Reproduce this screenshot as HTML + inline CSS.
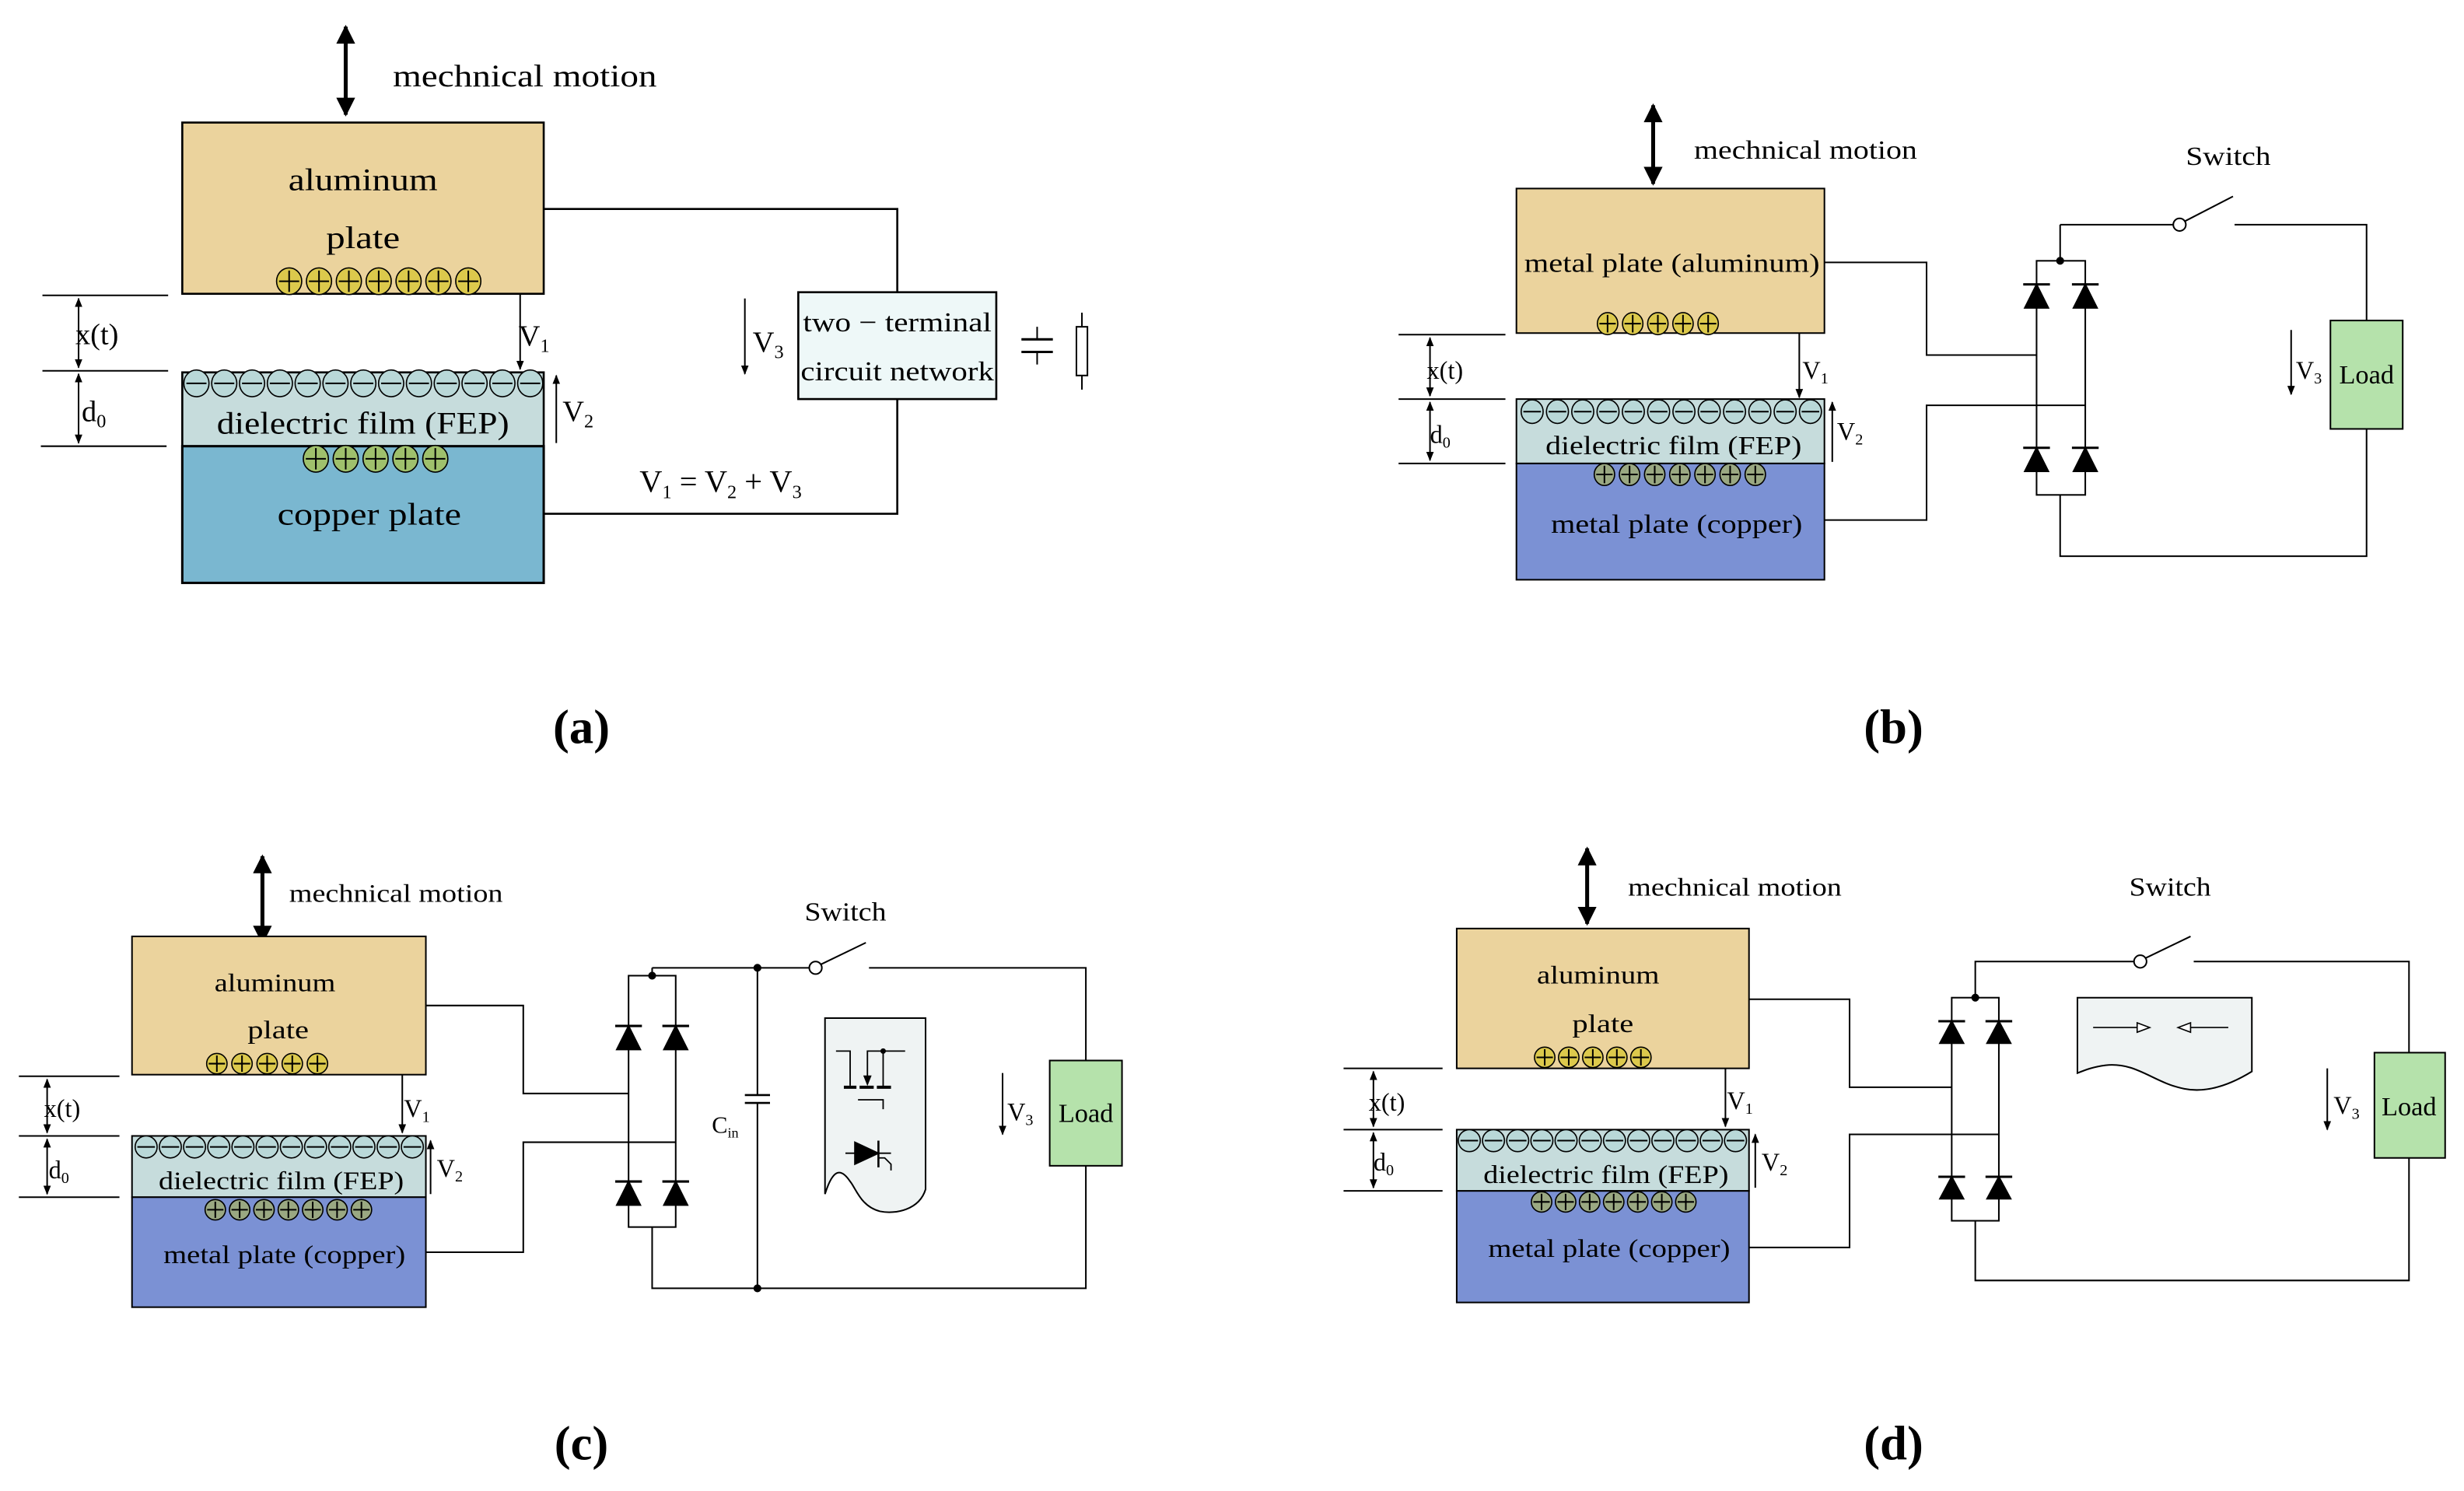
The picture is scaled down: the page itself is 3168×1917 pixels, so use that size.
<!DOCTYPE html>
<html><head><meta charset="utf-8"><style>
html,body{margin:0;padding:0;background:#fff;}
svg{display:block;}
text{font-family:"Liberation Serif",serif;fill:#000;}
</style></head><body>
<svg id="s" width="3168" height="1917" viewBox="0 0 1568 949" preserveAspectRatio="none" xmlns="http://www.w3.org/2000/svg">
<defs>
<marker id="ah" viewBox="0 0 10 10" refX="9" refY="5" markerWidth="6" markerHeight="8" orient="auto-start-reverse" markerUnits="userSpaceOnUse"><path d="M0,1 L10,5 L0,9 Z" fill="#000"/></marker>
<marker id="bh" viewBox="0 0 10 10" refX="9" refY="5" markerWidth="14" markerHeight="12" orient="auto-start-reverse" markerUnits="userSpaceOnUse"><path d="M0,0 L10,5 L0,10 Z" fill="#000"/></marker>
</defs>
<g id="g" fill="none" stroke="#000" stroke-width="1">
<!-- ===== Panel a ===== -->
<line x1="220" y1="17" x2="220" y2="73" stroke-width="2.5" marker-start="url(#bh)" marker-end="url(#bh)"/>
<rect x="116" y="78" width="230" height="109" fill="#ebd39d" stroke-width="1.3"/>
<rect x="116" y="237" width="230" height="47" fill="#c6dcdc" stroke-width="1.3"/>
<rect x="116" y="284" width="230" height="87" fill="#7ab7d0" stroke-width="1.5"/>
<line x1="27" y1="188" x2="107" y2="188"/><line x1="27" y1="236" x2="107" y2="236"/><line x1="26" y1="284" x2="106" y2="284"/>
<line x1="50" y1="190" x2="50" y2="234" marker-start="url(#ah)" marker-end="url(#ah)"/>
<line x1="50" y1="238" x2="50" y2="282" marker-start="url(#ah)" marker-end="url(#ah)"/>
<line x1="331" y1="187" x2="331" y2="235" marker-end="url(#ah)"/>
<line x1="354" y1="282" x2="354" y2="239" marker-end="url(#ah)"/>
<polyline points="346,133 571,133 571,186" stroke-width="1.3"/>
<rect x="508" y="186" width="126" height="68" fill="#eef8f8" stroke-width="1.3"/>
<polyline points="571,254 571,327 346,327" stroke-width="1.3"/>
<line x1="474" y1="190" x2="474" y2="238" marker-end="url(#ah)"/>
<line x1="650" y1="216" x2="670" y2="216" stroke-width="1.5"/><line x1="650" y1="224" x2="670" y2="224" stroke-width="1.5"/>
<line x1="660" y1="208" x2="660" y2="216"/><line x1="660" y1="224" x2="660" y2="232"/>
<rect x="685" y="208" width="7" height="31"/><line x1="688.5" y1="199" x2="688.5" y2="208"/><line x1="688.5" y1="239" x2="688.5" y2="248"/>

<!-- ===== Panel b ===== -->
<line x1="1052" y1="67" x2="1052" y2="117" stroke-width="2.5" marker-start="url(#bh)" marker-end="url(#bh)"/>
<rect x="965" y="120" width="196" height="92" fill="#ebd39d"/>
<rect x="965" y="254" width="196" height="41" fill="#c6dcdc"/>
<rect x="965" y="295" width="196" height="74" fill="#7b91d4"/>
<line x1="890" y1="213" x2="958" y2="213"/><line x1="890" y1="254" x2="958" y2="254"/><line x1="890" y1="295" x2="958" y2="295"/>
<line x1="910" y1="215" x2="910" y2="252" marker-start="url(#ah)" marker-end="url(#ah)"/>
<line x1="910" y1="256" x2="910" y2="293" marker-start="url(#ah)" marker-end="url(#ah)"/>
<line x1="1145" y1="212" x2="1145" y2="253" marker-end="url(#ah)"/>
<line x1="1166" y1="294" x2="1166" y2="256" marker-end="url(#ah)"/>
<polyline points="1161,167 1226,167 1226,226 1296,226"/>
<polyline points="1161,331 1226,331 1226,258 1327,258"/>
<rect x="1296" y="166" width="31" height="149"/>
<line x1="1311" y1="166" x2="1311" y2="143"/>
<line x1="1311" y1="143" x2="1383" y2="143"/>
<circle cx="1387" cy="143" r="4" fill="#fff"/>
<line x1="1390" y1="141" x2="1421" y2="125"/>
<polyline points="1422,143 1506,143 1506,204"/>
<rect x="1483" y="204" width="46" height="69" fill="#b5e2ab"/>
<polyline points="1506,273 1506,354 1311,354 1311,315"/>
<line x1="1458" y1="210" x2="1458" y2="251" marker-end="url(#ah)"/>

<!-- ===== Panel c ===== -->
<line x1="167" y1="545" x2="167" y2="600" stroke-width="2.5" marker-start="url(#bh)" marker-end="url(#bh)"/>
<rect x="84" y="596" width="187" height="88" fill="#ebd39d"/>
<rect x="84" y="723" width="187" height="39" fill="#c6dcdc"/>
<rect x="84" y="762" width="187" height="70" fill="#7b91d4"/>
<line x1="12" y1="685" x2="76" y2="685"/><line x1="12" y1="723" x2="76" y2="723"/><line x1="12" y1="762" x2="76" y2="762"/>
<line x1="30" y1="687" x2="30" y2="721" marker-start="url(#ah)" marker-end="url(#ah)"/>
<line x1="30" y1="725" x2="30" y2="760" marker-start="url(#ah)" marker-end="url(#ah)"/>
<line x1="256" y1="684" x2="256" y2="721" marker-end="url(#ah)"/>
<line x1="274" y1="760" x2="274" y2="726" marker-end="url(#ah)"/>
<polyline points="271,640 333,640 333,696 400,696"/>
<polyline points="271,797 333,797 333,727 430,727"/>
<rect x="400" y="621" width="30" height="160"/>
<line x1="415" y1="621" x2="415" y2="616"/>
<line x1="415" y1="616" x2="515" y2="616"/>
<circle cx="519" cy="616" r="4" fill="#fff"/>
<line x1="522" y1="614" x2="551" y2="600"/>
<polyline points="553,616 691,616 691,675"/>
<rect x="668" y="675" width="46" height="67" fill="#b5e2ab"/>
<polyline points="691,742 691,820 415,820 415,781"/>
<line x1="482" y1="616" x2="482" y2="697"/><line x1="482" y1="702" x2="482" y2="820"/>
<line x1="474" y1="697" x2="490" y2="697" stroke-width="1.3"/><line x1="474" y1="702" x2="490" y2="702" stroke-width="1.3"/>
<path d="M525,648 L589,648 L589,757 C585,770 570,773 560,771 C548,768 545,757 541,752 C535,743 530,744 525,760 Z" fill="#eff3f3"/>
<g stroke-width="0.9">
<polyline points="532,669 541,669 541,691"/>
<line x1="537" y1="692" x2="545" y2="692" stroke-width="2"/>
<line x1="547" y1="692" x2="556" y2="692" stroke-width="2"/>
<line x1="558" y1="692" x2="567" y2="692" stroke-width="2"/>
<polyline points="552,690 552,669 576,669"/>
<polyline points="562,669 562,692"/>
<polyline points="546,700 562,700 562,706"/>
<circle cx="562" cy="669" r="1.3" fill="#000"/>
<path d="M550,685 L552,690 L554,685 Z" fill="#000"/>
<line x1="538" y1="734" x2="567" y2="734"/>
<path d="M544,727 L559,734 L544,741 Z" fill="#000"/>
<line x1="559" y1="726" x2="559" y2="743" stroke-width="1.3"/>
<polyline points="559,737 563,737 567,741 567,745"/>
</g>
<line x1="638" y1="683" x2="638" y2="722" marker-end="url(#ah)"/>

<!-- ===== Panel d ===== -->
<line x1="1010" y1="540" x2="1010" y2="588" stroke-width="2.5" marker-start="url(#bh)" marker-end="url(#bh)"/>
<rect x="927" y="591" width="186" height="89" fill="#ebd39d"/>
<rect x="927" y="719" width="186" height="39" fill="#c6dcdc"/>
<rect x="927" y="758" width="186" height="71" fill="#7b91d4"/>
<line x1="855" y1="680" x2="918" y2="680"/><line x1="855" y1="719" x2="918" y2="719"/><line x1="855" y1="758" x2="918" y2="758"/>
<line x1="874" y1="682" x2="874" y2="717" marker-start="url(#ah)" marker-end="url(#ah)"/>
<line x1="874" y1="721" x2="874" y2="756" marker-start="url(#ah)" marker-end="url(#ah)"/>
<line x1="1098" y1="680" x2="1098" y2="717" marker-end="url(#ah)"/>
<line x1="1117" y1="756" x2="1117" y2="722" marker-end="url(#ah)"/>
<polyline points="1113,636 1177,636 1177,692 1242,692"/>
<polyline points="1113,794 1177,794 1177,722 1272,722"/>
<rect x="1242" y="635" width="30" height="142"/>
<polyline points="1257,635 1257,612 1358,612"/>
<circle cx="1362" cy="612" r="4" fill="#fff"/>
<line x1="1365" y1="610" x2="1394" y2="596"/>
<polyline points="1396,612 1533,612 1533,670"/>
<rect x="1511" y="670" width="45" height="67" fill="#b5e2ab"/>
<polyline points="1533,737 1533,815 1257,815 1257,777"/>
<path d="M1322,635 L1433,635 L1433,682 C1420,690 1405,696 1390,693 C1370,689 1360,676 1340,678 C1332,679 1327,681 1322,683 Z" fill="#eff3f3"/>
<line x1="1332" y1="654" x2="1360" y2="654" stroke-width="0.8"/>
<path d="M1360,651 L1368,654 L1360,657 Z" fill="#fff" stroke-width="0.8"/>
<line x1="1394" y1="654" x2="1418" y2="654" stroke-width="0.8"/>
<path d="M1394,651 L1386,654 L1394,657 Z" fill="#fff" stroke-width="0.8"/>
<line x1="1481" y1="680" x2="1481" y2="719" marker-end="url(#ah)"/>
</g>

<!-- ===== Text ===== -->
<g>
<text x="250" y="55" font-size="20" textLength="168" lengthAdjust="spacingAndGlyphs">mechnical motion</text>
<text x="231" y="121" font-size="20" text-anchor="middle" textLength="95" lengthAdjust="spacingAndGlyphs">aluminum</text>
<text x="231" y="158" font-size="20" text-anchor="middle" textLength="47" lengthAdjust="spacingAndGlyphs">plate</text>
<text x="231" y="276" font-size="20" text-anchor="middle" textLength="186" lengthAdjust="spacingAndGlyphs">dielectric film (FEP)</text>
<text x="235" y="334" font-size="20" text-anchor="middle" textLength="117" lengthAdjust="spacingAndGlyphs">copper plate</text>
<text x="48" y="219" font-size="19">x(t)</text>
<text x="52" y="268" font-size="19">d<tspan font-size="12" dy="4">0</tspan></text>
<text x="330" y="220" font-size="19">V<tspan font-size="12" dy="4">1</tspan></text>
<text x="358" y="268" font-size="19">V<tspan font-size="12" dy="4">2</tspan></text>
<text x="479" y="224" font-size="19">V<tspan font-size="12" dy="4">3</tspan></text>
<text x="571" y="211" font-size="17.5" text-anchor="middle" textLength="120" lengthAdjust="spacingAndGlyphs">two − terminal</text>
<text x="571" y="242" font-size="17.5" text-anchor="middle" textLength="123" lengthAdjust="spacingAndGlyphs">circuit network</text>
<text x="407" y="313" font-size="20">V<tspan font-size="12" dy="4">1</tspan><tspan dy="-4"> = V</tspan><tspan font-size="12" dy="4">2</tspan><tspan dy="-4"> + V</tspan><tspan font-size="12" dy="4">3</tspan></text>
<text x="370" y="473" font-size="31" text-anchor="middle" font-weight="bold">(a)</text>

<text x="1078" y="101" font-size="17" textLength="142" lengthAdjust="spacingAndGlyphs">mechnical motion</text>
<text x="1064" y="173" font-size="17" text-anchor="middle" textLength="188" lengthAdjust="spacingAndGlyphs">metal plate (aluminum)</text>
<text x="1065" y="289" font-size="17" text-anchor="middle" textLength="163" lengthAdjust="spacingAndGlyphs">dielectric film (FEP)</text>
<text x="1067" y="339" font-size="17" text-anchor="middle" textLength="160" lengthAdjust="spacingAndGlyphs">metal plate (copper)</text>
<text x="908" y="241" font-size="16">x(t)</text>
<text x="910" y="282" font-size="16">d<tspan font-size="10" dy="3">0</tspan></text>
<text x="1147" y="241" font-size="16">V<tspan font-size="10" dy="3">1</tspan></text>
<text x="1169" y="280" font-size="16">V<tspan font-size="10" dy="3">2</tspan></text>
<text x="1461" y="241" font-size="16">V<tspan font-size="10" dy="3">3</tspan></text>
<text x="1506" y="244" font-size="17" text-anchor="middle">Load</text>
<text x="1418" y="105" font-size="17" text-anchor="middle" textLength="54" lengthAdjust="spacingAndGlyphs">Switch</text>
<text x="1205" y="473" font-size="31" text-anchor="middle" font-weight="bold">(b)</text>

<text x="184" y="574" font-size="16" textLength="136" lengthAdjust="spacingAndGlyphs">mechnical motion</text>
<text x="175" y="631" font-size="16" text-anchor="middle" textLength="77" lengthAdjust="spacingAndGlyphs">aluminum</text>
<text x="177" y="661" font-size="16" text-anchor="middle" textLength="39" lengthAdjust="spacingAndGlyphs">plate</text>
<text x="179" y="757" font-size="16" text-anchor="middle" textLength="156" lengthAdjust="spacingAndGlyphs">dielectric film (FEP)</text>
<text x="181" y="804" font-size="16" text-anchor="middle" textLength="154" lengthAdjust="spacingAndGlyphs">metal plate (copper)</text>
<text x="28" y="711" font-size="16">x(t)</text>
<text x="31" y="750" font-size="16">d<tspan font-size="10" dy="3">0</tspan></text>
<text x="257" y="711" font-size="16">V<tspan font-size="10" dy="3">1</tspan></text>
<text x="278" y="749" font-size="16">V<tspan font-size="10" dy="3">2</tspan></text>
<text x="641" y="713" font-size="16">V<tspan font-size="10" dy="3">3</tspan></text>
<text x="453" y="721" font-size="15">C<tspan font-size="9" dy="3">in</tspan></text>
<text x="691" y="714" font-size="17" text-anchor="middle">Load</text>
<text x="538" y="586" font-size="17" text-anchor="middle" textLength="52" lengthAdjust="spacingAndGlyphs">Switch</text>
<text x="370" y="929" font-size="31" text-anchor="middle" font-weight="bold">(c)</text>

<text x="1036" y="570" font-size="16" textLength="136" lengthAdjust="spacingAndGlyphs">mechnical motion</text>
<text x="1017" y="626" font-size="16" text-anchor="middle" textLength="78" lengthAdjust="spacingAndGlyphs">aluminum</text>
<text x="1020" y="657" font-size="16" text-anchor="middle" textLength="39" lengthAdjust="spacingAndGlyphs">plate</text>
<text x="1022" y="753" font-size="16" text-anchor="middle" textLength="156" lengthAdjust="spacingAndGlyphs">dielectric film (FEP)</text>
<text x="1024" y="800" font-size="16" text-anchor="middle" textLength="154" lengthAdjust="spacingAndGlyphs">metal plate (copper)</text>
<text x="871" y="707" font-size="16">x(t)</text>
<text x="874" y="745" font-size="16">d<tspan font-size="10" dy="3">0</tspan></text>
<text x="1099" y="706" font-size="16">V<tspan font-size="10" dy="3">1</tspan></text>
<text x="1121" y="745" font-size="16">V<tspan font-size="10" dy="3">2</tspan></text>
<text x="1485" y="709" font-size="16">V<tspan font-size="10" dy="3">3</tspan></text>
<text x="1533" y="710" font-size="17" text-anchor="middle">Load</text>
<text x="1381" y="570" font-size="17" text-anchor="middle" textLength="52" lengthAdjust="spacingAndGlyphs">Switch</text>
<text x="1205" y="929" font-size="31" text-anchor="middle" font-weight="bold">(d)</text>
</g>
</svg>
<script>
var NS="http://www.w3.org/2000/svg",g=document.getElementById("g");
function el(t,a){var e=document.createElementNS(NS,t);for(var k in a)e.setAttribute(k,a[k]);g.appendChild(e);return e;}
function charges(x0,step,n,y,rx,ry,fill,plus){
 for(var i=0;i<n;i++){var x=x0+i*step;
  el("ellipse",{cx:x,cy:y,rx:rx,ry:ry,fill:fill,"stroke-width":0.8});
  el("line",{x1:x-rx*0.8,y1:y,x2:x+rx*0.8,y2:y,"stroke-width":1});
  if(plus)el("line",{x1:x,y1:y-ry*0.8,x2:x,y2:y+ry*0.8,"stroke-width":1});}
}
charges(184,19,7,179,8,8.5,"#dcc94c",true);
charges(125,17.7,13,244,8,8.5,"#b9d8d8",false);
charges(201,19,5,292,8,8.5,"#9fc06c",true);
charges(1023,16,5,206,6.5,7,"#dcc94c",true);
charges(975,16.1,12,262,7,7.5,"#b9d8d8",false);
charges(1021,16,7,302,6.5,7,"#9aa882",true);
charges(138,16,5,677,6.5,6.5,"#dcc94c",true);
charges(93,15.4,12,730,7,7,"#b9d8d8",false);
charges(137,15.5,7,770,6.5,6.5,"#9aa882",true);
charges(983,15.3,5,673,6.5,6.5,"#dcc94c",true);
charges(935,15.4,12,726,7,7,"#b9d8d8",false);
charges(981,15.3,7,765,6.5,6.5,"#9aa882",true);
function diode(x,yt,h,w){
 el("path",{d:"M"+(x-w)+","+(yt+h)+" L"+(x+w)+","+(yt+h)+" L"+x+","+yt+" Z",fill:"#000"});
 el("line",{x1:x-w-1,y1:yt,x2:x+w+1,y2:yt,"stroke-width":1.5});
}
diode(1296,181,15,7.5);diode(1327,181,15,7.5);diode(1296,285,15,7.5);diode(1327,285,15,7.5);
diode(400,653,15,7.5);diode(430,653,15,7.5);diode(400,752,15,7.5);diode(430,752,15,7.5);
diode(1242,650,14,7.5);diode(1272,650,14,7.5);diode(1242,749,14,7.5);diode(1272,749,14,7.5);
[[1311,166],[415,621],[482,616],[482,820],[1257,635]].forEach(function(p){el("circle",{cx:p[0],cy:p[1],r:2,fill:"#000"});});
</script>
</body></html>
